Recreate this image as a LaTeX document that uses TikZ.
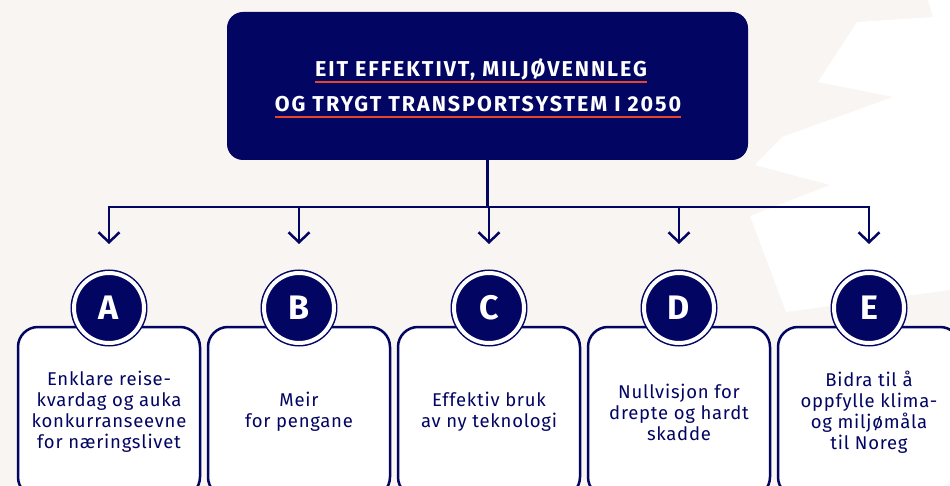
\documentclass[tikz,border=0pt]{standalone}
\usepackage{fontspec}
\setmainfont{Fira Sans}
\newfontfamily\headfont[LetterSpace=9]{Fira Sans}
\newfontfamily\goalfont[LetterSpace=4]{Fira Sans}
\usepackage{tikz}
\usetikzlibrary{arrows.meta}
\definecolor{navy}{RGB}{3,5,98}
\definecolor{paper}{RGB}{248,245,242}
\definecolor{linered}{RGB}{233,68,40}

\begin{document}
\begin{tikzpicture}[x=1pt, y=-1pt,
	goal/.style = {draw=navy, fill=white, line width=2.5pt, rounded corners=20pt, outer sep=0pt, minimum width=182pt, minimum height=170pt, text=navy, align=center, font=\goalfont\fontsize{18.5}{21}\selectfont},
	letter/.style = {circle, draw=navy, fill=navy, line width=1.5pt, double=white, double distance=4pt, inner sep=0pt, outer sep=0pt, minimum size=70pt, text=white, font=\fontsize{34}{34}\selectfont\bfseries},
	headline/.style = {text=white, inner sep=0pt, anchor=base, font=\headfont\fontsize{21.5}{21}\selectfont\bfseries},
	conn/.style = {draw=navy, line width=2.5pt, -{Straight Barb[length=10pt, width=21pt]}, shorten >=29pt}]
	\useasboundingbox (0,0) rectangle (950,486);
	\clip (0,0) rectangle (950,486);
	\fill[paper] (0,0) rectangle (950,486);
	\fill[white] (857,22) -- (933,17) -- (928,0) -- (950,0) -- (950,290) -- (786,312) -- (750,216) -- (830,185) -- (755,165) -- (782,137) -- (893,97) -- (818,82) -- cycle;

	% title
	\node[fill=navy, rounded corners=16pt, minimum width=521pt, minimum height=148pt] (title) at (487.5,86) {};
	\node[headline] (line1) at (481,77) {EIT EFFEKTIVT, MILJØVENNLEG};
	\node[headline] (line2) at (478,112) {OG TRYGT TRANSPORTSYSTEM I 2050};
	\draw[linered, line width=2.5pt] ([yshift=-5pt]line1.base west) -- ([yshift=-5pt]line1.base east);
	\draw[linered, line width=2.5pt] ([yshift=-5pt]line2.base west) -- ([yshift=-5pt]line2.base east);

	% goals
	\node[goal, anchor=north] (boxA) at (109,327) {Enklare reise-\\kvardag og auka\\konkurranseevne\\for næringslivet};
	\node[goal, anchor=north] (boxB) at (299,327) {Meir\\for pengane};
	\node[goal, anchor=north] (boxC) at (489,327) {Effektiv bruk\\av ny teknologi};
	\node[goal, anchor=north] (boxD) at (679,327) {Nullvisjon for\\drepte og hardt\\skadde};
	\node[goal, anchor=north] (boxE) at (869,327) {Bidra til å\\oppfylle klima-\\og miljømåla\\til Noreg};

	\node[letter] (cA) at (109,308) {A};
	\node[letter] (cB) at (299,308) {B};
	\node[letter] (cC) at (489,308) {C};
	\node[letter] (cD) at (679,308) {D};
	\node[letter] (cE) at (869,308) {E};

	% connectors
	\coordinate (hub) at (487.5,207);
	\draw[navy, line width=2.5pt] (title.south) -- (hub);
	\draw[conn] (hub) -| (cA.north);
	\draw[conn] (hub) -| (cB.north);
	\draw[conn] (hub) -- (hub -| cC.north) -- (cC.north);
	\draw[conn] (hub) -| (cD.north);
	\draw[conn] (hub) -| (cE.north);
\end{tikzpicture}
\end{document}
